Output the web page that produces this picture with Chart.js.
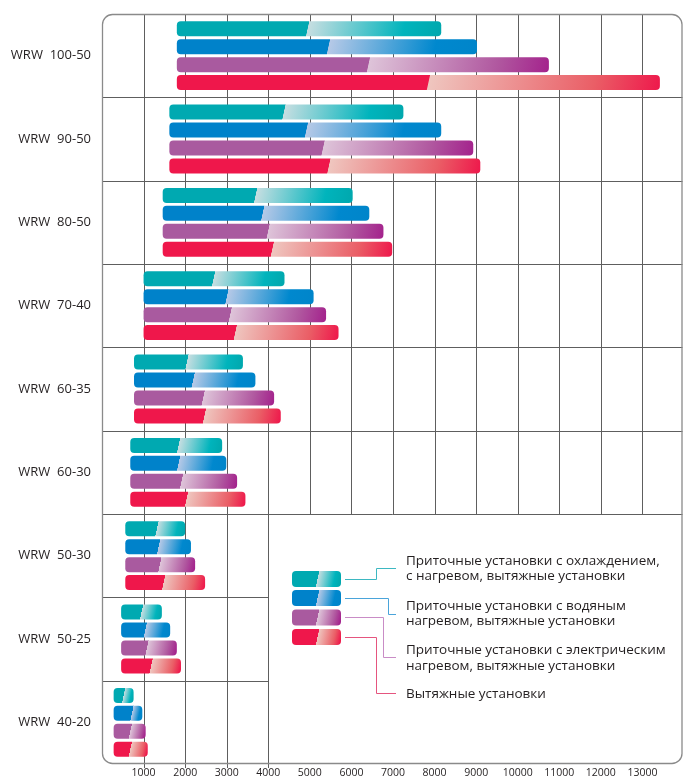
<!DOCTYPE html>
<html><head><meta charset="utf-8">
<script src="https://cdn.jsdelivr.net/npm/chart.js@4/dist/chart.umd.min.js"></script>
<style>html,body{margin:0;padding:0;background:#fff}#wrap{width:687px;height:780px;position:relative}</style>
</head><body><div id="wrap"><canvas id="c" width="687" height="780"></canvas></div>
<script>
// ---- data ----
const categories = ['WRW  100-50','WRW  90-50','WRW  80-50','WRW  70-40','WRW  60-35','WRW  60-30','WRW  50-30','WRW  50-25','WRW  40-20'];
const starts = [1800, 1620, 1460, 1000, 770, 680, 560, 460, 280];

const coolingSplit  = [4940, 4370, 3690, 2680, 2040, 1840, 1320, 950, 520];
const coolingEnd    = [8160, 7250, 6030, 4390, 3390, 2890, 2000, 1440, 760];
const waterSplit    = [5440, 4910, 3860, 3000, 2190, 1840, 1360, 1040, 720];
const waterEnd      = [9020, 8160, 6430, 5090, 3690, 2990, 2140, 1640, 970];
const electricSplit = [6400, 5310, 3990, 3080, 2430, 1910, 1390, 1080, 680];
const electricEnd   = [10750, 8930, 6770, 5390, 4140, 3250, 2240, 1800, 1050];
const exhaustSplit  = [7840, 5450, 4090, 3200, 2460, 2030, 1480, 1180, 680];
const exhaustEnd    = [13420, 9100, 6980, 5690, 4300, 3450, 2480, 1900, 1100];

const xTickValues = [1000,2000,3000,4000,5000,6000,7000,8000,9000,10000,11000,12000,13000];

const legendLines = [
  ['Приточные установки с охлаждением,', 'с нагревом, вытяжные установки'],
  ['Приточные установки с водяным', 'нагревом, вытяжные установки'],
  ['Приточные установки с электрическим', 'нагревом, вытяжные установки'],
  ['Вытяжные установки']
];

// ---- styles ----
const palette = [
  {solid:'#00A9B1', pale:'#C6DEE1', mid:'#00B4BC', end:'#00A8AE', line:'#3DB8C2'},
  {solid:'#0082CA', pale:'#B6C9E7', mid:'#0088CE', end:'#0085CA', line:'#4AA4DA'},
  {solid:'#A95A9F', pale:'#DEC4D9', mid:'#B0579F', end:'#A4248D', line:'#C98CC6'},
  {solid:'#EF174B', pale:'#EFC6BF', mid:'#EA5E66', end:'#EE1A4C', line:'#E5557F'}
];
const FONT = "'Open Sans', 'DejaVu Sans', sans-serif";
const TEXT = '#231F20';
const CAT_PCT = 0.862, BAR_PCT = 0.833, K = 0.22;

function makeGrad(ctx, x0, x1, xs, yc, c) {
  if (![x0, x1, xs, yc].every(Number.isFinite)) return c.solid;
  const L = Math.max(1, x1 - x0), f = 1/(1+K*K);
  const g = ctx.createLinearGradient(x0, yc, x0 + L*f, yc + K*L*f);
  const t = Math.max(0, Math.min(0.99, (xs - x0)/L));
  g.addColorStop(0, c.solid);
  g.addColorStop(t, c.solid);
  g.addColorStop(Math.min(1, t + 0.002), c.pale);
  g.addColorStop(t + (1 - t)*0.72, c.mid);
  g.addColorStop(1, c.end);
  return g;
}

const splits = [coolingSplit, waterSplit, electricSplit, exhaustSplit];
const ends = [coolingEnd, waterEnd, electricEnd, exhaustEnd];

function bgFor(d) {
  return function(ctx) {
    const chart = ctx.chart, xs = chart.scales && chart.scales.x, ys = chart.scales && chart.scales.y;
    if (!xs || !ys || ctx.type !== 'data') return palette[d].solid;
    const i = ctx.dataIndex;
    const catH = (ys.bottom - ys.top)/categories.length;
    const slot = catH*CAT_PCT/splits.length;
    const yc = ys.getPixelForValue(i) + (d - (splits.length - 1)/2)*slot;
    return makeGrad(chart.ctx, xs.getPixelForValue(starts[i]), xs.getPixelForValue(ends[d][i]),
                    xs.getPixelForValue(splits[d][i]), yc, palette[d]);
  };
}

const datasets = ends.map((arr, d) => ({
  label: legendLines[d].join(' '),
  data: arr.map((e, i) => [starts[i], e]),
  backgroundColor: bgFor(d),
  borderWidth: 0,
  borderRadius: 4,
  borderSkipped: false,
  categoryPercentage: CAT_PCT,
  barPercentage: BAR_PCT
}));

const framePlugin = {
  id: 'frame',
  beforeDatasetsDraw(chart) {
    const {ctx} = chart, xs = chart.scales.x, ys = chart.scales.y;
    const top = ys.top, bottom = ys.bottom, left = xs.left, right = xs.right - 1.5;
    const catH = (bottom - top)/categories.length;
    const x4 = Math.round(xs.getPixelForValue(4000)) + 0.5;
    const notchY = Math.round(top + 6*catH) + 0.5;
    ctx.save();
    ctx.strokeStyle = '#5e5e5e';
    ctx.lineWidth = 1;
    xTickValues.forEach(v => {
      const x = Math.round(xs.getPixelForValue(v)) + 0.5;
      ctx.beginPath();
      ctx.moveTo(x, top);
      ctx.lineTo(x, v <= 4000 ? bottom + 4 : notchY);
      ctx.stroke();
    });
    for (let i = 1; i < categories.length; i++) {
      const y = Math.round(top + i*catH) + 0.5;
      ctx.beginPath();
      ctx.moveTo(left, y);
      ctx.lineTo(i <= 6 ? right : x4, y);
      ctx.stroke();
    }
    ctx.strokeStyle = '#8a8a8a';
    ctx.lineWidth = 1.3;
    ctx.beginPath();
    ctx.roundRect(left + 0.5, top + 0.5, right - left - 1, bottom - top - 1, 10);
    ctx.stroke();
    ctx.restore();
  },
  afterDraw(chart) {
    const {ctx} = chart;
    ctx.save();
    const sx0 = 292, sx1 = 341, tops = [571, 590, 609.5, 629], h = 16;
    tops.forEach((t, d) => {
      ctx.fillStyle = makeGrad(ctx, sx0, sx1, sx0 + (sx1 - sx0)*0.52, t + h/2, palette[d]);
      ctx.beginPath();
      ctx.roundRect(sx0, t, sx1 - sx0, h, 4);
      ctx.fill();
    });
    const conns = [
      [[345,579.5],[376.5,579.5],[376.5,568.5],[396,568.5]],
      [[345,598.5],[388.5,598.5],[388.5,614.5],[396,614.5]],
      [[345,617.5],[383.5,617.5],[383.5,657.5],[396,657.5]],
      [[345,637.5],[376.5,637.5],[376.5,693.5],[396,693.5]]
    ];
    conns.forEach((pts, d) => {
      ctx.strokeStyle = palette[d].line;
      ctx.lineWidth = 1;
      ctx.beginPath();
      pts.forEach((p, k) => k ? ctx.lineTo(p[0], p[1]) : ctx.moveTo(p[0], p[1]));
      ctx.stroke();
    });
    const ys = [[561, 576], [606.5, 621.5], [650.5, 666], [694]];
    ctx.fillStyle = TEXT;
    ctx.font = '13.5px ' + FONT;
    ctx.textBaseline = 'middle';
    ctx.textAlign = 'left';
    legendLines.forEach((lines, d) => lines.forEach((s, k) => ctx.fillText(s, 406, ys[d][k])));
    ctx.restore();
  }
};

new Chart(document.getElementById('c'), {
  type: 'bar',
  data: { labels: categories, datasets },
  options: {
    indexAxis: 'y',
    responsive: false,
    animation: false,
    events: [],
    layout: { padding: { top: 14, right: 3, left: 0, bottom: 0 } },
    plugins: { legend: { display: false }, tooltip: { enabled: false } },
    scales: {
      x: {
        type: 'linear', min: 0, max: 14000,
        afterFit(s) { s.height = 16; s.paddingLeft = 0; s.paddingRight = 0; },
        afterBuildTicks(s) { s.ticks = [0].concat(xTickValues, [14000]).map(v => ({value: v})); },
        grid: { display: false, drawTicks: false },
        border: { display: false },
        ticks: {
          padding: 3, color: TEXT, font: { family: FONT, size: 10.5 }, maxRotation: 0, autoSkip: false,
          callback: v => (v > 0 && v < 14000) ? String(v) : ''
        }
      },
      y: {
        afterFit(s) { s.width = 102; s.paddingTop = 0; s.paddingBottom = 0; },
        grid: { display: false, drawTicks: false },
        border: { display: false },
        ticks: { padding: 11, color: TEXT, font: { family: FONT, size: 13 } }
      }
    }
  },
  plugins: [framePlugin]
});
</script></body></html>
